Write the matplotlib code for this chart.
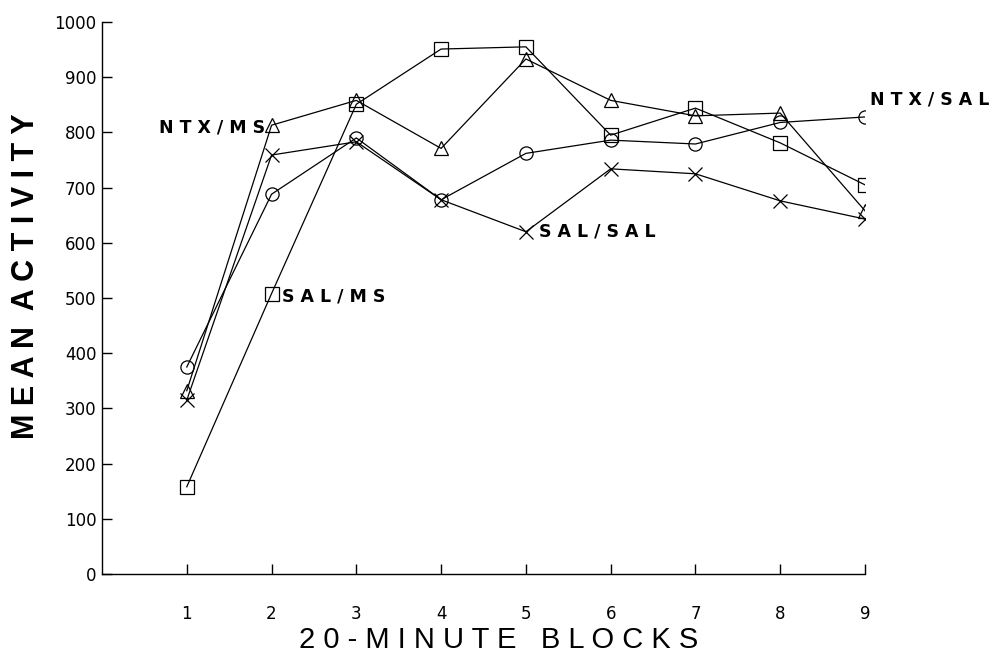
import matplotlib.pyplot as plt

blocks = [1, 2, 3, 4, 5, 6, 7, 8, 9]

sal_ms = [158, 508, 851, 951, 955, 795, 844, 781, 705]
ntx_ms = [332, 813, 858, 771, 933, 858, 830, 835, 658]
ntx_sal = [375, 688, 790, 678, 762, 786, 779, 818, 828]
sal_sal = [315, 759, 783, 678, 620, 734, 725, 676, 643]

yticks = [0, 100, 200, 300, 400, 500, 600, 700, 800, 900, 1000]

fig = plt.figure(figsize=(9.95, 6.54), dpi=100)
ax = fig.add_axes([102 / 995, 1 - 574 / 654, 763 / 995, 552 / 654])

style = dict(color='black', linewidth=0.9, markersize=9.5,
             markerfacecolor='none', markeredgecolor='black', markeredgewidth=0.9)
ax.plot(blocks, sal_ms, marker='s', **style)
ax.plot(blocks, ntx_ms, marker='^', **style)
ax.plot(blocks, ntx_sal, marker='o', **style)
ax.plot(blocks, sal_sal, marker='x', **style)

# group labels next to the lines
lab = dict(fontsize=12.5, fontweight='bold', family='DejaVu Sans', va='center')
ax.text(1.92, 808, 'N T X / M S', ha='right', **lab)
ax.text(2.12, 502, 'S A L / M S', ha='left', **lab)
ax.text(5.15, 620, 'S A L / S A L', ha='left', **lab)
ax.text(9.06, 859, 'N T X / S A L', ha='left', clip_on=False, **lab)

ax.set_xlim(0, 9)
ax.set_ylim(0, 1000)
ax.set_xticks(blocks)
ax.set_yticks(yticks)
ax.spines['top'].set_visible(False)
ax.spines['right'].set_visible(False)
for s in ['left', 'bottom']:
    ax.spines[s].set_linewidth(1.0)
ax.tick_params(direction='in', length=7, width=1.0, labelsize=12)
ax.tick_params(axis='y', pad=4)
ax.tick_params(axis='x', pad=22)

fig.text(26 / 995, 1 - 276 / 654, 'M E A N  A C T I V I T Y', rotation=90, ha='center', va='center',
         fontsize=22, fontweight='bold', family='Liberation Sans')
fig.text(499 / 995, 1 - 648 / 654, '2 0 - M I N U T E   B L O C K S', ha='center', va='baseline',
         fontsize=21, family='Liberation Sans')

fig.savefig('out.png', dpi=100)
